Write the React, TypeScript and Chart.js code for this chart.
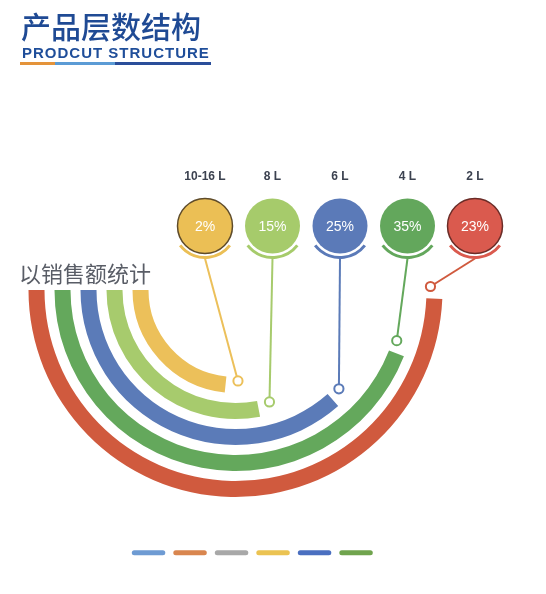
import React, { useEffect, useRef } from "react";
import { Chart, registerables } from "chart.js";

Chart.register(...registerables);

// ---- data ----
const categories = ["10-16 L", "8 L", "6 L", "4 L", "2 L"];
const shares = [2, 15, 25, 35, 23];
// sweep of each ring (degrees of the half circle it covers)
const arcSweeps = [84, 101, 131.5, 158.5, 177.5];
const legendColors = ["#6E9BD3", "#D9864F", "#A8A8A8", "#EBC352", "#4A6FC0", "#70A44E"];

// ---- styles ----
const ringColors = ["#ECC05A", "#A7CB6D", "#5B7BB8", "#64A85C", "#D05A3E"];
const circleColors = ["#EBBF55", "#A6CB6B", "#5B7AB8", "#63A75C", "#DA5A4E"];
const circleBorders: (string | null)[] = ["#5E4B2A", null, null, null, "#6A2C27"];
const W = 546;
const H = 594;
const CIRCLE_X0 = 205;
const CIRCLE_STEP = 67.5;
const CIRCLE_Y = 226;
const CIRCLE_R = 27.5;
const SMILE_R = 31.5;
const LABEL_Y = 177;
const RING_W = 16;
const GAP_W = 10;

const TRANSPARENT = "rgba(0,0,0,0)";

function buildDatasets() {
  const ds: any[] = [];
  // outermost ring first in Chart.js => last category first
  for (let k = categories.length - 1; k >= 0; k--) {
    ds.push({
      label: categories[k],
      data: [360 - arcSweeps[k], arcSweeps[k]],
      backgroundColor: [TRANSPARENT, ringColors[k]],
      borderWidth: 0,
      weight: RING_W,
    });
    if (k > 0) {
      ds.push({
        label: "",
        data: [1],
        backgroundColor: [TRANSPARENT],
        borderWidth: 0,
        weight: GAP_W,
      });
    }
  }
  return ds;
}

function datasetIndexOf(k: number) {
  // category k -> dataset index
  return (categories.length - 1 - k) * 2;
}

const decorPlugin = {
  id: "decor",
  afterDatasetsDraw(chart: any) {
    const ctx: CanvasRenderingContext2D = chart.ctx;
    ctx.save();
    categories.forEach((cat, k) => {
      const meta = chart.getDatasetMeta(datasetIndexOf(k));
      const arc = meta.data[1];
      const p = arc.getProps(["x", "y", "startAngle", "innerRadius", "outerRadius"], true);
      const rMid = (p.innerRadius + p.outerRadius) / 2 - 4;
      const a = p.startAngle - 12 / rMid;
      const mx = p.x + rMid * Math.cos(a);
      const my = p.y + rMid * Math.sin(a);

      const cx = CIRCLE_X0 + CIRCLE_STEP * k;
      const cy = CIRCLE_Y;
      const col = circleColors[k];

      // leader line
      ctx.strokeStyle = ringColors[k];
      ctx.lineWidth = 2;
      ctx.lineCap = "butt";
      ctx.beginPath();
      ctx.moveTo(cx, cy + SMILE_R + 1);
      ctx.lineTo(mx, my);
      ctx.stroke();

      // marker ring
      ctx.beginPath();
      ctx.arc(mx, my, 4.6, 0, Math.PI * 2);
      ctx.fillStyle = "#ffffff";
      ctx.fill();
      ctx.lineWidth = 2;
      ctx.strokeStyle = ringColors[k];
      ctx.stroke();

      // smile arc
      ctx.beginPath();
      ctx.arc(cx, cy, SMILE_R, (38 * Math.PI) / 180, (142 * Math.PI) / 180);
      ctx.lineWidth = 3;
      ctx.strokeStyle = col;
      ctx.stroke();

      // circle
      ctx.beginPath();
      ctx.arc(cx, cy, CIRCLE_R, 0, Math.PI * 2);
      ctx.fillStyle = col;
      ctx.fill();
      const b = circleBorders[k];
      if (b) {
        ctx.lineWidth = 1.5;
        ctx.strokeStyle = b;
        ctx.stroke();
      }

      // percent text
      ctx.fillStyle = "#ffffff";
      ctx.font = "14px 'Liberation Sans', Arial, sans-serif";
      ctx.textAlign = "center";
      ctx.textBaseline = "middle";
      ctx.fillText(shares[k] + "%", cx, cy + 1);

      // category label
      ctx.fillStyle = "#3C4250";
      ctx.font = "bold 12px 'Liberation Sans', Arial, sans-serif";
      ctx.fillText(cat, cx, LABEL_Y);
    });
    ctx.restore();
  },
};

export default function App() {
  const canvasRef = useRef<HTMLCanvasElement | null>(null);

  useEffect(() => {
    if (!canvasRef.current) return;
    const chart = new Chart(canvasRef.current, {
      type: "doughnut",
      data: {
        labels: ["", ""],
        datasets: buildDatasets(),
      },
      options: {
        responsive: false,
        animation: false,
        events: [],
        rotation: 270,
        cutout: 87,
        layout: {
          padding: { left: 28.5, right: 66.9, top: 35.3, bottom: 28.3 },
        },
        plugins: {
          tooltip: { enabled: false },
          title: {
            display: true,
            position: "right",
            text: " ",
            font: { size: 10 },
            padding: { top: 24.6, bottom: 0 },
          },
          legend: {
            display: true,
            position: "bottom",
            align: "center",
            labels: {
              boxWidth: 33.5,
              boxHeight: 5,
              padding: 5,
              font: { size: 6 },
              generateLabels: () =>
                legendColors.map((c, i) => ({
                  text: "",
                  fillStyle: c,
                  strokeStyle: c,
                  lineWidth: 0,
                  hidden: false,
                  borderRadius: 2.5,
                  index: i,
                })),
            },
          },
        },
      } as any,
      plugins: [decorPlugin],
    });
    return () => chart.destroy();
  }, []);

  return (
    <div style={{ position: "absolute", left: 0, top: 0, width: W, height: H, background: "#fff" }}>
      <canvas
        ref={canvasRef}
        width={W}
        height={H}
        style={{ position: "absolute", left: 0, top: 0, width: W, height: H, display: "block" }}
      />
      <div
        style={{
          position: "absolute",
          left: 21,
          top: 10,
          fontFamily: "'Noto Sans CJK SC', sans-serif",
          fontSize: 30,
          lineHeight: 1,
          fontWeight: 500,
          color: "#1F4A94",
          whiteSpace: "nowrap",
        }}
      >
        产品层数结构
      </div>
      <div
        style={{
          position: "absolute",
          left: 22,
          top: 44.7,
          fontFamily: "'Liberation Sans', Arial, sans-serif",
          fontSize: 15,
          lineHeight: 1,
          fontWeight: 700,
          letterSpacing: 1,
          color: "#1F4E9A",
          whiteSpace: "nowrap",
        }}
      >
        PRODCUT STRUCTURE
      </div>
      <div style={{ position: "absolute", left: 20, top: 62, width: 35, height: 3, background: "#E4933A" }} />
      <div style={{ position: "absolute", left: 55, top: 62, width: 60, height: 3, background: "#5B9BD5" }} />
      <div style={{ position: "absolute", left: 115, top: 62, width: 96, height: 3, background: "#2A4E9A" }} />
      <div
        style={{
          position: "absolute",
          left: 19,
          top: 260.5,
          fontFamily: "'Noto Sans CJK SC', sans-serif",
          fontSize: 22,
          lineHeight: 1,
          color: "#595D66",
          whiteSpace: "nowrap",
        }}
      >
        以销售额统计
      </div>
    </div>
  );
}
